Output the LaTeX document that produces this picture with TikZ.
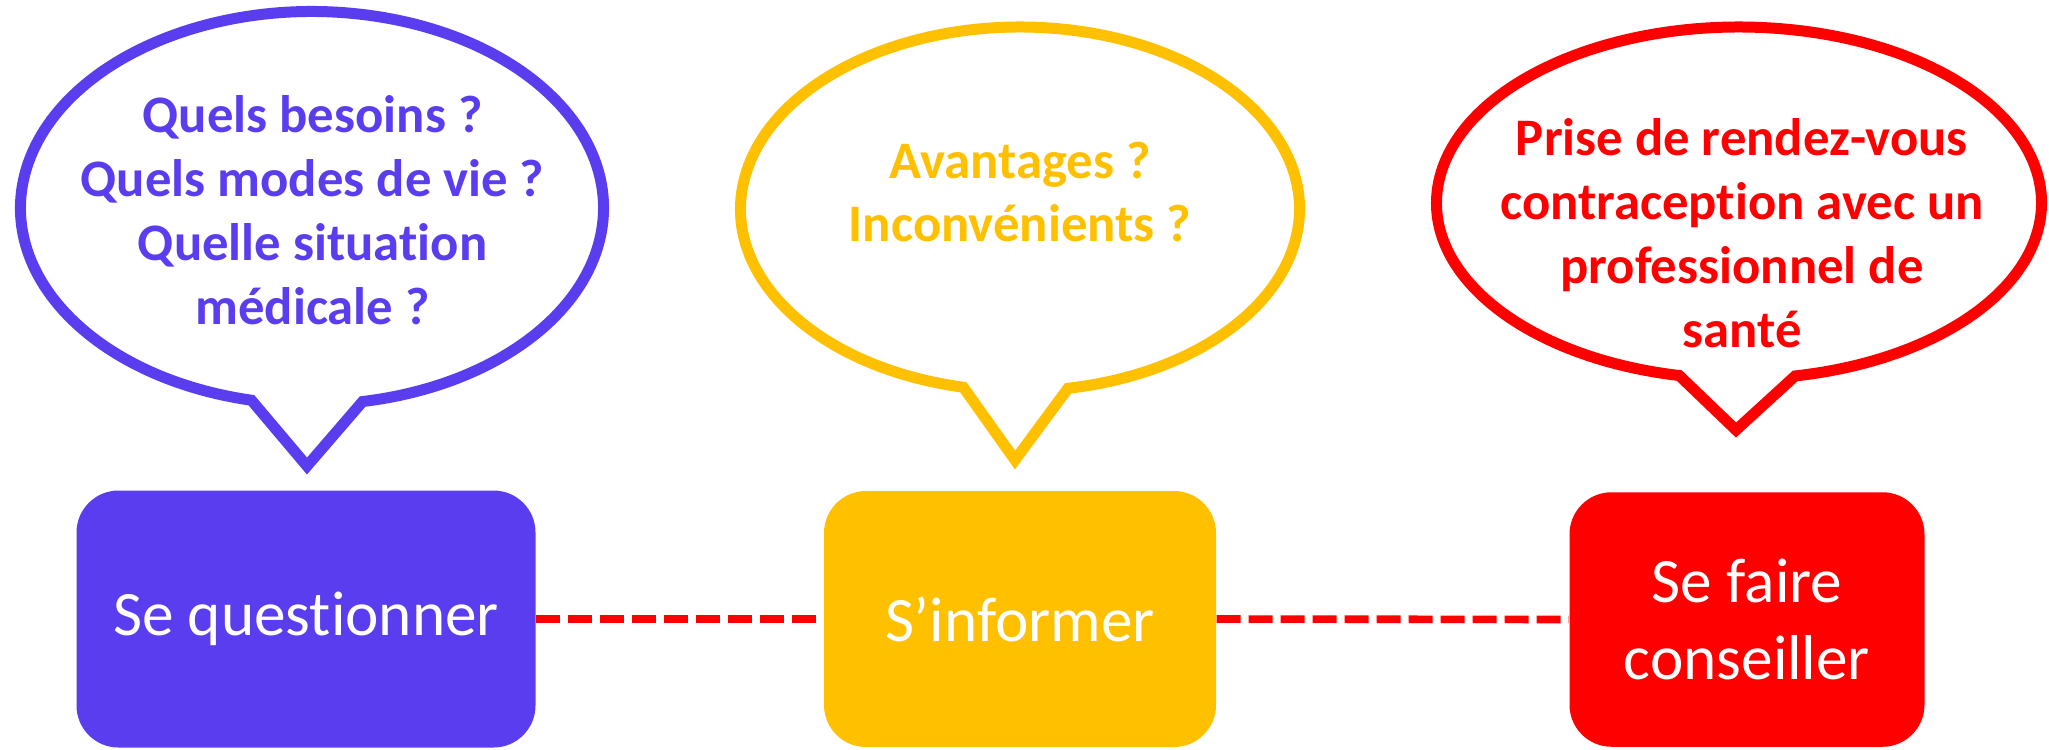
\documentclass[tikz,border=0pt]{standalone}
\usepackage{fontspec}
\setmainfont{Carlito}[Ligatures=NoCommon]
\usetikzlibrary{positioning}
\definecolor{qblue}{HTML}{5B3DF0}
\definecolor{iyellow}{HTML}{FFC000}
\definecolor{cred}{HTML}{FF0000}
\begin{document}
\begin{tikzpicture}[
		stepbox/.style={rectangle, rounded corners=0.42cm, inner sep=0pt, text=white, align=center,
			font=\fontsize{18pt}{22pt}\selectfont},
		bubble/.style={line width=0.11cm, fill=white},
		bubbletext/.style={align=center, inner sep=0pt, font=\fontsize{15pt}{18.2pt}\selectfont\bfseries},
		link/.style={draw=cred, line width=0.076cm, dash pattern=on 0.24cm off 0.08cm}
	]
			\useasboundingbox (0,0) rectangle (20.49,7.49);

			% Draw bubbles
			\draw[bubble, draw=qblue] (3.07,2.83) -- ([shift={(3.12,5.41)}]258:2.915 and 1.965)
				arc[start angle=258, end angle=-80, x radius=2.915, y radius=1.965] -- cycle;
			\draw[bubble, draw=iyellow] (10.15,2.89) -- ([shift={(10.20,5.40)}]258.3:2.795 and 1.82)
				arc[start angle=258.3, end angle=-80.1, x radius=2.795, y radius=1.82] -- cycle;
			\draw[bubble, draw=cred] (17.36,3.19) -- ([shift={(17.39,5.46)}]258.6:3.025 and 1.76)
				arc[start angle=258.6, end angle=-79.3, x radius=3.025, y radius=1.76] -- cycle;

			% Bubble texts
			\node[bubbletext, text=qblue] (tq) at (3.125,5.39) {Quels besoins ?\\Quels modes de vie ?\\Quelle situation\\médicale ?};
			\node[bubbletext, text=iyellow] (ti) at (10.20,5.57) {Avantages ?\\Inconvénients ?};
			\node[bubbletext, text=cred] (tc) at (17.42,5.16) {Prise de rendez-vous\\contraception avec un\\professionnel de\\santé};

			% Define nodes
			\node[stepbox, fill=qblue, minimum width=4.59cm, minimum height=2.57cm] (q) at (3.06,1.30) {Se questionner};
			\node[stepbox, fill=iyellow, minimum width=3.92cm, minimum height=2.56cm] (i) at (10.20,1.30) {S’informer};
			\node[stepbox, fill=cred, minimum width=3.55cm, minimum height=2.545cm] (c) at (17.47,1.295) {Se faire\\conseiller};

			% Draw red dashed links
			\draw[link] (q.east) -- (i.west);
			\draw[link] (i.east) -- (c.west);

		\end{tikzpicture}
\end{document}
